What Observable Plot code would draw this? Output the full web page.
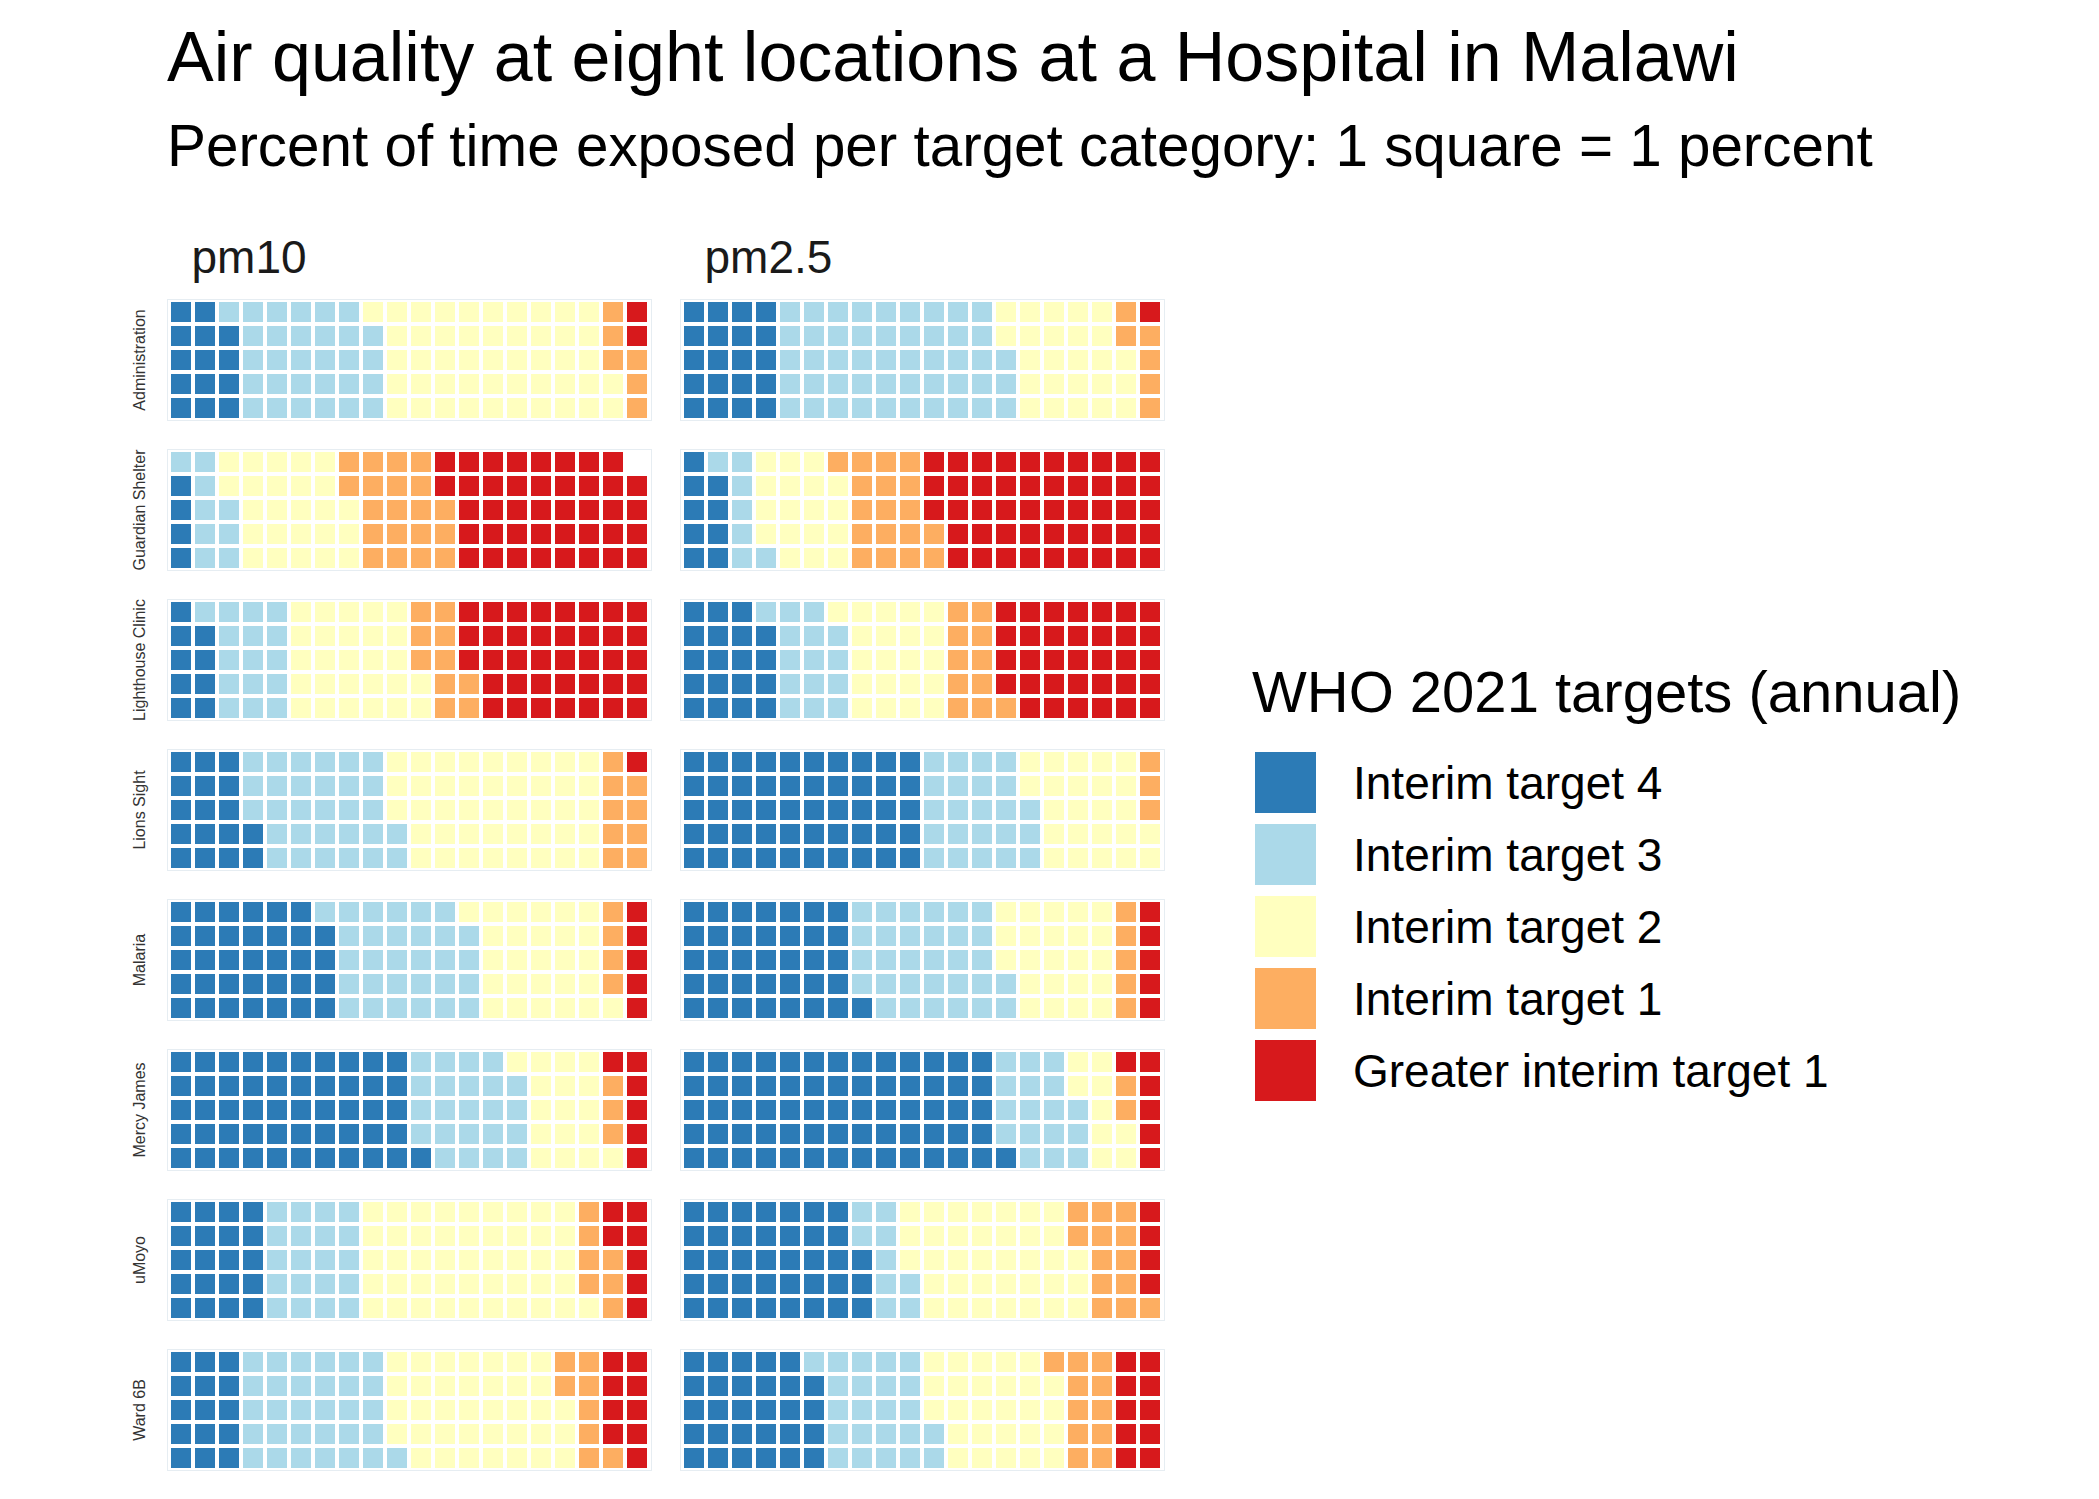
<!DOCTYPE html>
<html>
<head>
<meta charset="utf-8">
<script src="https://cdn.jsdelivr.net/npm/d3@7"></script>
<script src="https://cdn.jsdelivr.net/npm/@observablehq/plot@0.6"></script>
<style>
  html, body { margin: 0; padding: 0; background: #fff; }
  #root { position: relative; width: 2099px; height: 1499px; overflow: hidden;
          font-family: "Liberation Sans", Arial, Helvetica, sans-serif; background: #fff; }
  .t { position: absolute; white-space: nowrap; line-height: 1; color: #000; }
  #title { left: 167px; top: 22px; font-size: 70px; }
  #subtitle { left: 167px; top: 117px; font-size: 58.4px; }
  #legtitle { left: 1252px; top: 663px; font-size: 58px; }
  #chart { position: absolute; left: 0; top: 0; }
  #legend { position: absolute; left: 1255px; top: 752px; }
  .lg-swatch { padding-bottom: 11px !important; }
  .lg-swatch > svg { margin-right: 37px !important; }
  .lg-swatch-label { line-height: normal; color: #000; }
</style>
</head>
<body>
<div id="root">
  <div class="t" id="title">Air quality at eight locations at a Hospital in Malawi</div>
  <div class="t" id="subtitle">Percent of time exposed per target category: 1 square = 1 percent</div>
  <div id="chart"></div>
  <div class="t" id="legtitle">WHO 2021 targets (annual)</div>
  <div id="legend"></div>
</div>
<script>
// Categories (fill order within each waffle) and colours
const categories = ["Interim target 4", "Interim target 3", "Interim target 2", "Interim target 1", "Greater interim target 1"];
const colors = ["#2c7bb6", "#abd9e9", "#ffffbf", "#fdae61", "#d7191c"];

const locations = ["Administration", "Guardian Shelter", "Lighthouse Clinic", "Lions Sight", "Malaria", "Mercy James", "uMoyo", "Ward 6B"];
const pollutants = ["pm10", "pm2.5"];

// Percent of time per category, one value per location (same order as locations)
const pm10_target4  = [14,  4,  9, 17, 34, 51, 20, 15];
const pm10_target3  = [30,  9, 16, 30, 30, 23, 20, 31];
const pm10_target2  = [48, 25, 27, 43, 27, 17, 46, 37];
const pm10_target1  = [ 6, 20, 10,  9,  4,  3,  7,  8];
const pm10_greater1 = [ 2, 41, 38,  1,  5,  6,  7,  9];

const pm25_target4  = [20,  9, 19, 50, 36, 66, 38, 29];
const pm25_target3  = [48,  7, 15, 23, 31, 17,  9, 23];
const pm25_target2  = [25, 18, 21, 24, 23,  9, 36, 27];
const pm25_target1  = [ 6, 18, 11,  3,  5,  2, 13, 11];
const pm25_greater1 = [ 1, 48, 34,  0,  5,  6,  4, 10];

const seriesByPollutant = {
  "pm10":  [pm10_target4, pm10_target3, pm10_target2, pm10_target1, pm10_greater1],
  "pm2.5": [pm25_target4, pm25_target3, pm25_target2, pm25_target1, pm25_greater1]
};

const nRows = 5, nCols = 20;

// Build waffle squares: filled column by column, bottom to top
const cells = [];
for (const p of pollutants) {
  locations.forEach((loc, li) => {
    let i = 0;
    categories.forEach((cat, ci) => {
      const n = seriesByPollutant[p][ci][li];
      for (let j = 0; j < n; j++, i++) {
        cells.push({pollutant: p, location: loc, category: cat, col: Math.floor(i / nRows), row: i % nRows});
      }
    });
  });
}

const font = '"Liberation Sans", Arial, Helvetica, sans-serif';

const chart = Plot.plot({
  width: 1200,
  height: 1499,
  marginLeft: 167,
  marginRight: 36,
  marginTop: 299,
  marginBottom: 29,
  style: {fontFamily: font, background: "transparent", overflow: "visible"},
  x: {type: "band", domain: d3.range(nCols), padding: 0, axis: null},
  y: {type: "band", domain: d3.range(nRows).reverse(), padding: 0, axis: null},
  fx: {domain: pollutants, paddingInner: 29 / 513, paddingOuter: 0, axis: null},
  fy: {domain: locations, paddingInner: 29 / 150, paddingOuter: 0, axis: null},
  color: {type: "ordinal", domain: categories, range: colors},
  marks: [
    Plot.frame({stroke: "#dbe6ec", strokeOpacity: 0.7, strokeWidth: 1}),
    Plot.cell(cells, {x: "col", y: "row", fx: "pollutant", fy: "location", fill: "category", inset: 2}),
    Plot.text(pollutants, {
      fx: d => d, fy: () => locations[0], text: d => d,
      frameAnchor: "top-left", textAnchor: "start", lineAnchor: "bottom",
      dx: 24, dy: -27, fontSize: 46, fill: "#1a1a1a"
    }),
    Plot.text(locations, {
      fy: d => d, fx: () => pollutants[0], text: d => d,
      frameAnchor: "left", textAnchor: "middle", rotate: -90,
      dx: -28, fontSize: 16, fill: "#333"
    })
  ]
});
document.getElementById("chart").appendChild(chart);

const legend = Plot.legend({
  color: {type: "ordinal", domain: categories, range: colors},
  legend: "swatches",
  columns: 1,
  swatchSize: 61,
  className: "lg",
  style: {fontFamily: font, fontSize: "46px", color: "#000", margin: "0"}
});
document.getElementById("legend").appendChild(legend);
</script>
</body>
</html>
